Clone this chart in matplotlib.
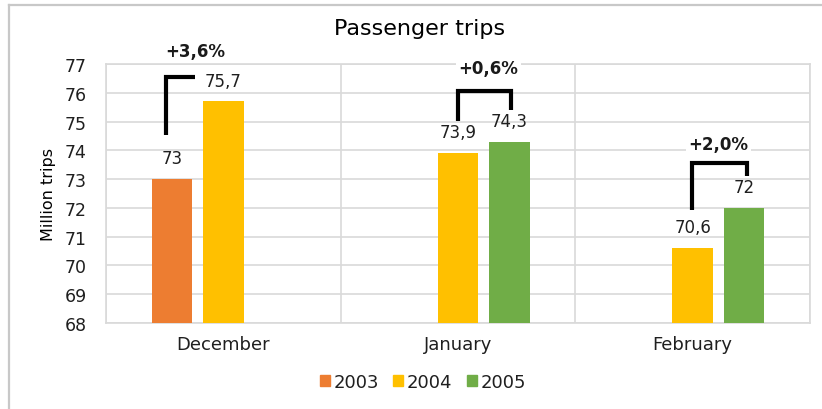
import matplotlib
matplotlib.use("Agg")
import matplotlib.pyplot as plt
import numpy as np
from matplotlib.patches import Rectangle
from matplotlib.lines import Line2D

plt.rcParams['font.family'] = ['DejaVu Sans']

# Data
months = ["December", "January", "February"]
years = ["2003", "2004", "2005"]
trips_2003 = [73.0, np.nan, np.nan]
trips_2004 = [75.7, 73.9, 70.6]
trips_2005 = [np.nan, 74.3, 72.0]
value_labels_2003 = ["73", "", ""]
value_labels_2004 = ["75,7", "73,9", "70,6"]
value_labels_2005 = ["", "74,3", "72"]
change_labels = ["+3,6%", "+0,6%", "+2,0%"]

colors = ["#ED7D31", "#FFC000", "#70AD47"]
series = [trips_2003, trips_2004, trips_2005]
labels = [value_labels_2003, value_labels_2004, value_labels_2005]

fig = plt.figure(figsize=(8.22, 4.10), dpi=100)
ax = fig.add_axes([106/822, 1 - 324/410, (810-106)/822, (324-65)/410])

# outer chart frame: only top and left edges fall inside the image
frame_x, frame_y = 8.5/822, 1 - 5.5/410
fig.lines.append(Line2D([frame_x, 1.0], [frame_y, frame_y],
                        transform=fig.transFigure, color="#c8c8c8", lw=1.6))
fig.lines.append(Line2D([frame_x, frame_x], [0.0, frame_y],
                        transform=fig.transFigure, color="#c8c8c8", lw=1.6))

x = np.arange(len(months))
width = 0.172
offset = 0.219
offsets = [-offset, 0.0, offset]

for vals, off, col, labs in zip(series, offsets, colors, labels):
    v = np.array(vals, dtype=float)
    ax.bar(x + off, v - 68, bottom=68, width=width, color=col, zorder=3)
    for xi, val, lab in zip(x, v, labs):
        if np.isnan(val) or not lab:
            continue
        ax.annotate(lab, (xi + off, val), xytext=(0, 8.5),
                    textcoords="offset points", ha="center", va="bottom",
                    fontsize=12, color="#1f1f1f", zorder=5)

# change brackets: (x points, y points) and label position
lw = 3.0
brackets = [
    ([-0.244, -0.244, -0.121], [74.53, 76.55, 76.55]),
    ([1.0, 1.0, 1.226, 1.226], [75.02, 76.06, 76.06, 75.40]),
    ([1.996, 1.996, 2.23, 2.23], [71.93, 73.56, 73.56, 73.11]),
]
change_pos = [(-0.121, 77.44), (1.13, 76.85), (2.11, 74.22)]
for (bx, by), (tx, ty), txt in zip(brackets, change_pos, change_labels):
    ax.plot(bx, by, color="black", lw=lw, solid_joinstyle="miter",
            solid_capstyle="butt", zorder=4, clip_on=False)
    ax.text(tx, ty, txt, ha="center", va="center", fontsize=12,
            fontweight="bold", color="#1a1a1a", zorder=6, clip_on=False,
            bbox=dict(facecolor="white", edgecolor="none", pad=2))

ax.set_xlim(-0.5, 2.5)
ax.set_ylim(68, 77)
ax.set_yticks(np.arange(68, 78, 1))
ax.set_xticks(x)
ax.set_xticklabels(months, fontsize=13, color="#1f1f1f")
ax.set_xticks([-0.5, 0.5, 1.5, 2.5], minor=True)
ax.tick_params(axis="x", which="both", length=0, pad=9)
ax.tick_params(axis="y", length=0, pad=14, labelsize=12.5, labelcolor="#1f1f1f")
ax.grid(axis="y", which="major", color="#d9d9d9", lw=1.2, zorder=0)
ax.grid(axis="x", which="minor", color="#d9d9d9", lw=1.2, zorder=0)
for s in ax.spines.values():
    s.set_color("#d9d9d9")
    s.set_linewidth(1.2)

ax.set_ylabel("Million trips", fontsize=11.5, color="#000000", labelpad=6)
fig.text(420/822, 1 - 29/410, "Passenger trips", ha="center", va="center",
         fontsize=16, color="#000000")

handles = [Rectangle((0, 0), 1, 1, color=c) for c in colors]
fig.legend(handles, years, loc="center", bbox_to_anchor=(423/822, 1 - 383/410),
           ncol=3, frameon=False, fontsize=13, handlelength=0.55,
           handleheight=0.55, handletextpad=0.2, columnspacing=0.8,
           labelcolor="#1f1f1f")

fig.savefig("out.png", dpi=100)
